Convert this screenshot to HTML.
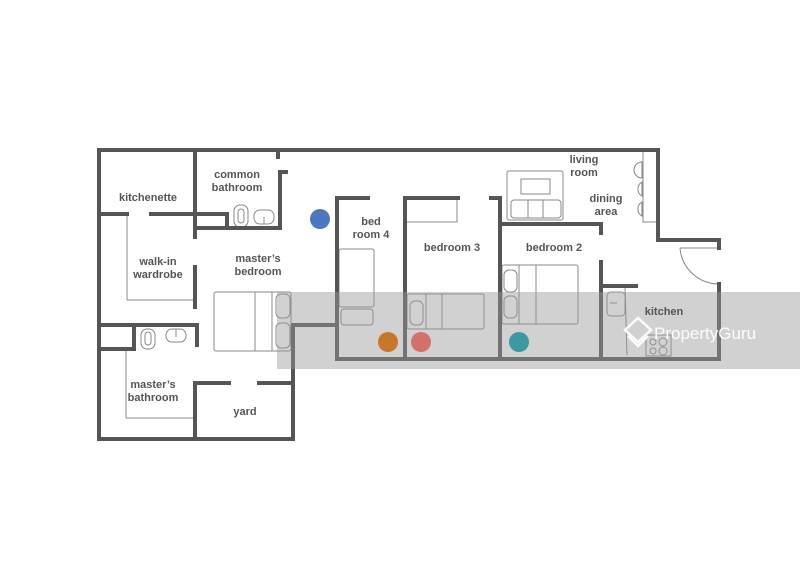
<!DOCTYPE html>
<html><head><meta charset="utf-8"><style>html,body{margin:0;padding:0;background:#fff}svg{display:block}</style></head><body>
<svg width="800" height="582" viewBox="0 0 800 582" xmlns="http://www.w3.org/2000/svg">
<rect width="800" height="582" fill="#fff"/>
<g fill="none" stroke="#888" stroke-width="1">
<rect x="405" y="198" width="52" height="24"/>
<rect x="339" y="249" width="35" height="58" rx="2"/>
<rect x="341" y="309" width="32" height="16" rx="3"/>
<rect x="214" y="292" width="77" height="59" rx="2"/>
<line x1="255" y1="292" x2="255" y2="351"/><line x1="272" y1="292" x2="272" y2="351"/>
<rect x="276" y="294" width="14" height="24" rx="5"/><rect x="276" y="323" width="14" height="25" rx="5"/>
<rect x="407" y="294" width="77" height="35" rx="2"/>
<line x1="426" y1="294" x2="426" y2="329"/><line x1="442" y1="294" x2="442" y2="329"/>
<rect x="410" y="301" width="13" height="24" rx="5"/>
<rect x="502" y="265" width="76" height="59" rx="2"/>
<line x1="519" y1="265" x2="519" y2="324"/><line x1="536" y1="265" x2="536" y2="324"/>
<rect x="504" y="270" width="13" height="22" rx="5"/><rect x="504" y="296" width="13" height="22" rx="5"/>
<rect x="507" y="171" width="56" height="49" rx="2"/>
<rect x="521" y="179" width="29" height="15"/>
<rect x="511" y="200" width="50" height="18" rx="3"/>
<line x1="528" y1="200" x2="528" y2="218"/><line x1="543" y1="200" x2="543" y2="218"/>
<rect x="643" y="150" width="15" height="72"/>
<path d="M642 162 a8 8 0 0 0 0 16z M642 182 a8 8 0 0 0 0 14z M642 202 a8 8 0 0 0 0 14z"/>
<rect x="607" y="292" width="18" height="24" rx="4"/><line x1="610" y1="303" x2="617" y2="303"/>
<line x1="625" y1="287" x2="627" y2="355"/>
<rect x="646" y="335" width="25" height="21"/>
<circle cx="653" cy="342" r="3"/><circle cx="663" cy="342" r="4"/><circle cx="653" cy="351" r="3"/><circle cx="663" cy="351" r="4"/>
<rect x="234" y="205" width="14" height="22" rx="6"/><rect x="238" y="209" width="6" height="14" rx="3"/>
<rect x="254" y="210" width="20" height="14" rx="6"/><line x1="264" y1="217" x2="264" y2="224"/>
<rect x="141" y="329" width="14" height="20" rx="6"/><rect x="145" y="332" width="6" height="13" rx="3"/>
<rect x="166" y="329" width="20" height="13" rx="6"/><line x1="176" y1="329" x2="176" y2="337"/>
<line x1="127" y1="214" x2="127" y2="300"/><line x1="127" y1="300" x2="193" y2="300"/>
<line x1="126" y1="349" x2="126" y2="418"/><line x1="126" y1="418" x2="193" y2="418"/>
<path d="M680 248 A39 39 0 0 0 719 284"/>
<line x1="680" y1="248" x2="719" y2="248"/>
</g>
<g stroke="#555" stroke-width="4" fill="none" stroke-linecap="square">
<path d="M99 150 H658 V240 H719 V248"/>
<path d="M719 284 V359 H337 V198 H368"/>
<path d="M99 150 V439 H293 V325 H337"/>
<path d="M195 150 V237"/><path d="M195 267 V307"/>
<path d="M99 214 H127"/><path d="M151 214 H227 V228"/>
<path d="M195 228 H280 V172 H286"/><path d="M278 150 V157"/>
<path d="M99 325 H197 V345"/><path d="M99 349 H134 V325"/>
<path d="M195 383 V439"/><path d="M195 383 H229"/><path d="M259 383 H293"/>
<path d="M405 359 V198 H458"/><path d="M491 198 H500 V359"/>
<path d="M500 224 H601 V233"/><path d="M601 262 V359"/><path d="M601 286 H636"/>
</g>
<rect x="277" y="292" width="523" height="77" fill="#999" fill-opacity="0.45"/>
<circle cx="320" cy="219" r="10" fill="#4a78c0"/>
<circle cx="388" cy="342" r="10" fill="#c8762a"/>
<circle cx="421" cy="342" r="10" fill="#d4706a"/>
<circle cx="519" cy="342" r="10" fill="#3a9aa0"/>
<g font-family="Liberation Sans, sans-serif" font-weight="bold" font-size="11" fill="#555" text-anchor="middle">
<text x="237" y="178">common</text><text x="237" y="191">bathroom</text>
<text x="148" y="201">kitchenette</text>
<text x="158" y="265">walk-in</text><text x="158" y="278">wardrobe</text>
<text x="258" y="262">master’s</text><text x="258" y="275">bedroom</text>
<text x="371" y="225">bed</text><text x="371" y="238">room 4</text>
<text x="452" y="251">bedroom 3</text>
<text x="554" y="251">bedroom 2</text>
<text x="584" y="163">living</text><text x="584" y="176">room</text>
<text x="606" y="202">dining</text><text x="606" y="215">area</text>
<text x="664" y="315">kitchen</text>
<text x="153" y="388">master’s</text><text x="153" y="401">bathroom</text>
<text x="245" y="415">yard</text>
</g>
<g fill="none" stroke="#fff" stroke-width="2.5" opacity="0.9"><path d="M625 330 L638 318 L651 330 L638 342 Z M628 336 L638 346 L648 336"/></g>
<text x="654" y="339" font-family="Liberation Sans, sans-serif" font-size="17" fill="#fff" opacity="0.95">PropertyGuru</text>
</svg>
</body></html>
